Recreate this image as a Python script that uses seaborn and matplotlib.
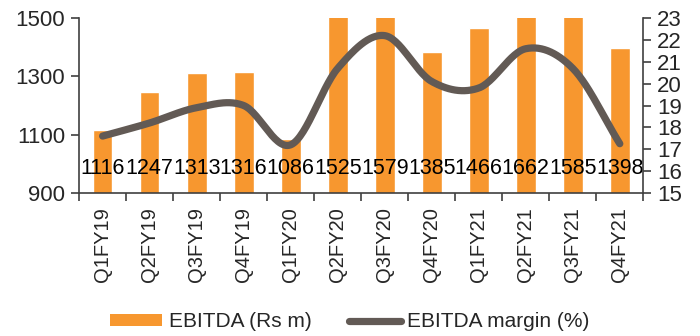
import numpy as np
import pandas as pd
import matplotlib
matplotlib.use("Agg")
import matplotlib.pyplot as plt
import matplotlib.transforms as mtransforms
from matplotlib.patches import Patch
from matplotlib.lines import Line2D
import seaborn as sns

quarters = ["Q1FY19", "Q2FY19", "Q3FY19", "Q4FY19", "Q1FY20", "Q2FY20",
            "Q3FY20", "Q4FY20", "Q1FY21", "Q2FY21", "Q3FY21", "Q4FY21"]
ebitda = [1116, 1247, 1313, 1316, 1086, 1525, 1579, 1385, 1466, 1662, 1585, 1398]
margin = [17.6, 18.2, 18.9, 19.0, 17.2, 20.7, 22.2, 20.1, 19.8, 21.6, 20.7, 17.25]

BAR_COLOR = "#F7972F"
LINE_COLOR = "#625A55"
AXIS_COLOR = "#404040"

sns.set_theme(style="white")
plt.rcParams["font.family"] = ["Liberation Sans", "DejaVu Sans"]
plt.rcParams["font.size"] = 15


def catmull_rom(y, steps=30):
    """Smooth curve through the points (uniform Catmull-Rom)."""
    y = np.asarray(y, dtype=float)
    p = np.concatenate([[2 * y[0] - y[1]], y, [2 * y[-1] - y[-2]]])
    xs, ys = [], []
    for i in range(len(y) - 1):
        p0, p1, p2, p3 = p[i], p[i + 1], p[i + 2], p[i + 3]
        t = np.linspace(0, 1, steps, endpoint=(i == len(y) - 2))
        seg = 0.5 * ((2 * p1) + (-p0 + p2) * t
                     + (2 * p0 - 5 * p1 + 4 * p2 - p3) * t ** 2
                     + (-p0 + 3 * p1 - 3 * p2 + p3) * t ** 3)
        xs.append(i + t)
        ys.append(seg)
    return np.concatenate(xs), np.concatenate(ys)


df = pd.DataFrame({"quarter": quarters, "ebitda": ebitda, "margin": margin})

fig = plt.figure(figsize=(7.0, 3.36), dpi=100)
ax = fig.add_axes([0.113, 0.426, 0.806, 0.520])

sns.barplot(data=df, x="quarter", y="ebitda", color=BAR_COLOR, saturation=1,
            width=0.42, ax=ax)
ax.set_ylim(900, 1500)
ax.set_yticks([900, 1100, 1300, 1500])
ax.set_xlim(-0.5, len(quarters) - 0.5)
ax.set_xlabel("")
ax.set_ylabel("")

# value labels along the base of the bars
trans = mtransforms.blended_transform_factory(ax.transData, ax.transAxes)
for i, v in enumerate(df["ebitda"]):
    ax.text(i, 0.14, f"{v}", transform=trans, ha="center", va="center",
            fontsize=15.5, color="black")

ax2 = ax.twinx()
sx, sy = catmull_rom(df["margin"])
sns.lineplot(x=sx, y=sy, sort=False, color=LINE_COLOR, linewidth=5.2,
             ax=ax2, solid_capstyle="round")
ax2.set_ylim(15, 23)
ax2.set_yticks(range(15, 24))
ax2.set_xlim(-0.5, len(quarters) - 0.5)

# category ticks sit between bars
ax.set_xticks(np.arange(len(quarters)))
ax.set_xticklabels(quarters, rotation=90, fontsize=14.5)
ax.tick_params(axis="x", which="major", length=0, pad=10)
ax.set_xticks(np.arange(-0.5, len(quarters)), minor=True)
ax.tick_params(axis="x", which="minor", length=6, width=1.2, color=AXIS_COLOR,
               direction="out", bottom=True)
ax.tick_params(axis="y", length=6, width=1.2, color=AXIS_COLOR,
               direction="out", left=True, labelsize=16, pad=4)
ax2.tick_params(axis="y", length=6, width=1.2, color=AXIS_COLOR,
                direction="out", right=True, labelsize=16, pad=4)

for a in (ax, ax2):
    a.grid(False)
    a.spines["top"].set_visible(False)
    for s in ("left", "right", "bottom"):
        a.spines[s].set_color(AXIS_COLOR)
        a.spines[s].set_linewidth(1.2)
ax.spines["right"].set_visible(False)
ax2.spines["left"].set_visible(False)
ax2.spines["bottom"].set_visible(False)

handles = [Patch(facecolor=BAR_COLOR, edgecolor="none", label="EBITDA (Rs m)"),
           Line2D([0], [0], color=LINE_COLOR, linewidth=5.2,
                  solid_capstyle="round", label="EBITDA margin (%)")]
fig.legend(handles=handles, loc="center", bbox_to_anchor=(0.50, 0.042),
           ncol=2, frameon=False, fontsize=15, handlelength=2.5,
           handleheight=0.5, handletextpad=0.3, columnspacing=1.8,
           borderaxespad=0)

fig.savefig("out.png", dpi=100)
